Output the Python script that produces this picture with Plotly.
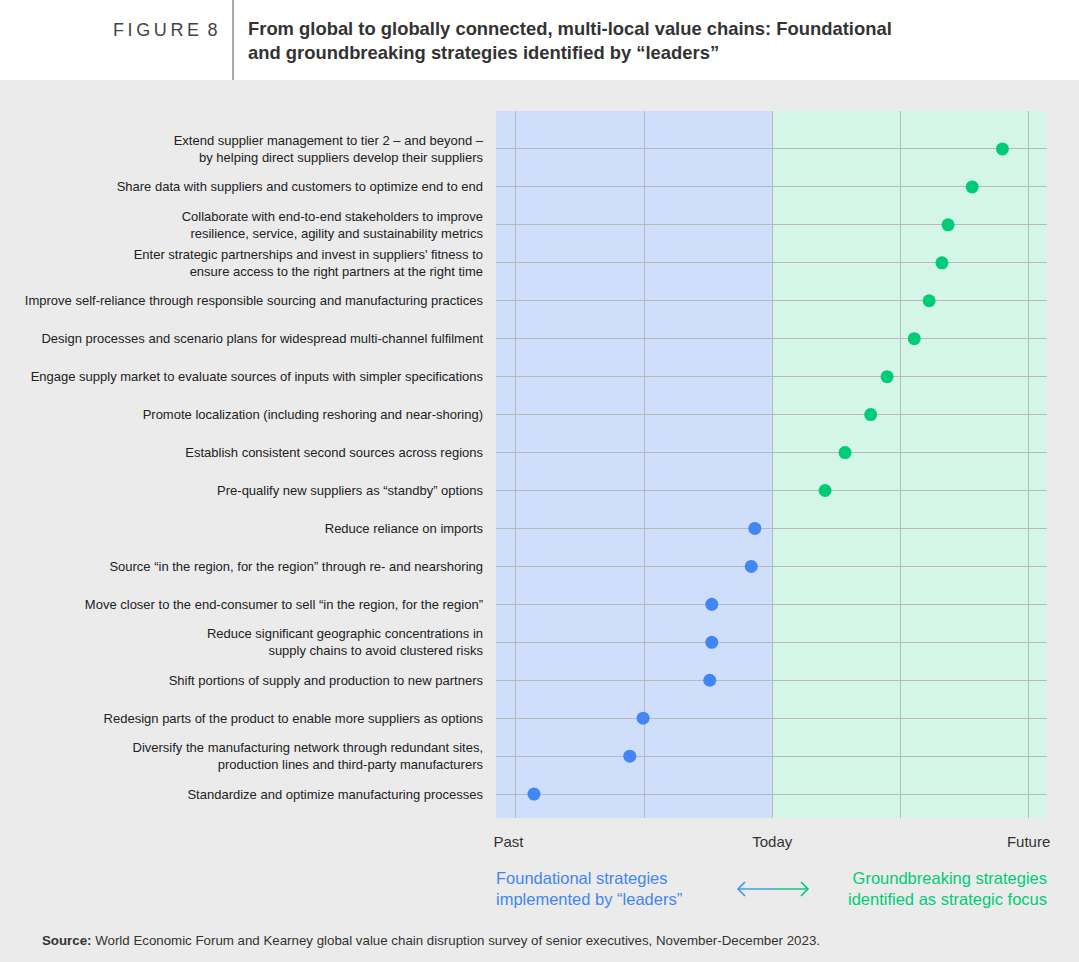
import plotly.graph_objects as go

labels = [
    "Extend supplier management to tier 2 – and beyond –<br>by helping direct suppliers develop their suppliers",
    "Share data with suppliers and customers to optimize end to end",
    "Collaborate with end-to-end stakeholders to improve<br>resilience, service, agility and sustainability metrics",
    "Enter strategic partnerships and invest in suppliers' fitness to<br>ensure access to the right partners at the right time",
    "Improve self-reliance through responsible sourcing and manufacturing practices",
    "Design processes and scenario plans for widespread multi-channel fulfilment",
    "Engage supply market to evaluate sources of inputs with simpler specifications",
    "Promote localization (including reshoring and near-shoring)",
    "Establish consistent second sources across regions",
    "Pre-qualify new suppliers as “standby” options",
    "Reduce reliance on imports",
    "Source “in the region, for the region” through re- and nearshoring",
    "Move closer to the end-consumer to sell “in the region, for the region”",
    "Reduce significant geographic concentrations in<br>supply chains to avoid clustered risks",
    "Shift portions of supply and production to new partners",
    "Redesign parts of the product to enable more suppliers as options",
    "Diversify the manufacturing network through redundant sites,<br>production lines and third-party manufacturers",
    "Standardize and optimize manufacturing processes",
]
# 0 = Past, 50 = Today, 100 = Future
values = [94.9, 89.0, 84.3, 83.1, 80.6, 77.7, 72.4, 69.2, 64.2, 60.3,
          46.6, 45.9, 38.2, 38.2, 37.8, 24.8, 22.2, 3.5]
groups = ["Groundbreaking"] * 10 + ["Foundational"] * 8
x_tickvals = [0, 25, 50, 75, 100]
x_ticktext = ["Past\u2002\u2002", "", "Today", "", "Future"]

BLUE = "#4285f4"
GREEN = "#00cc77"
BLUE_BG = "#cfdffb"
GREEN_BG = "#d3f6e8"
GRID = "#b9b9b9"

W, H = 1079, 962
L, R, T, B = 496, 32, 111, 144
PW, PH = W - L - R, H - T - B


def px(x):
    return (x - L) / PW


def py(y):
    return (H - B - y) / PH


rows = list(range(len(labels)))
colors = [GREEN if g == "Groundbreaking" else BLUE for g in groups]

fig = go.Figure()
fig.add_trace(go.Scatter(
    x=values, y=rows, mode="markers",
    marker=dict(size=13, color=colors, line=dict(width=0)),
    hoverinfo="skip", showlegend=False,
))

xmin, xmax = -3.9, 103.6
ay_ = py(889)
shapes = [
    dict(type="rect", xref="paper", yref="paper", x0=px(-5), x1=px(W + 5),
         y0=py(80), y1=py(-5), fillcolor="white", line=dict(width=0), layer="below"),
    dict(type="line", xref="paper", yref="paper", x0=px(233), x1=px(233),
         y0=py(80), y1=py(0), line=dict(color="#555555", width=1)),
    dict(type="rect", xref="x", yref="paper", x0=xmin, x1=50, y0=0, y1=1,
         fillcolor=BLUE_BG, line=dict(width=0), layer="below"),
    dict(type="rect", xref="x", yref="paper", x0=50, x1=xmax, y0=0, y1=1,
         fillcolor=GREEN_BG, line=dict(width=0), layer="below"),
    # double arrow (blue half + green half)
    dict(type="line", xref="paper", yref="paper", x0=px(738), x1=px(773), y0=ay_, y1=ay_,
         line=dict(color="#3fa0e0", width=1.6)),
    dict(type="line", xref="paper", yref="paper", x0=px(773), x1=px(808), y0=ay_, y1=ay_,
         line=dict(color="#10c590", width=1.6)),
    dict(type="path", xref="paper", yref="paper",
         path=f"M {px(745)},{py(882)} L {px(738)},{ay_} L {px(745)},{py(896)}",
         line=dict(color="#4290ee", width=1.6)),
    dict(type="path", xref="paper", yref="paper",
         path=f"M {px(801)},{py(882)} L {px(808)},{ay_} L {px(801)},{py(896)}",
         line=dict(color="#00c97f", width=1.6)),
]

annotations = [
    dict(text="F\u2009I\u2009G\u2009U\u2009R\u2009E\u2009 8", xref="paper", yref="paper",
         x=px(220), y=py(30), xanchor="right", yanchor="middle", showarrow=False,
         font=dict(family="Liberation Sans, Arial", size=18, color="#444444")),
    dict(text="<b>From global to globally connected, multi-local value chains: Foundational<br>and groundbreaking strategies identified by “leaders”</b>",
         xref="paper", yref="paper", x=px(246), y=py(41), xanchor="left", yanchor="middle",
         align="left", showarrow=False,
         font=dict(family="Liberation Sans, Arial", size=18.4, color="#333333")),
    dict(text="Foundational strategies<br>implemented by “leaders”", xref="paper", yref="paper",
         x=px(494), y=py(888), xanchor="left", yanchor="middle", align="left", showarrow=False,
         font=dict(family="Liberation Sans, Arial", size=16.5, color=BLUE)),
    dict(text="Groundbreaking strategies<br>identified as strategic focus", xref="paper", yref="paper",
         x=px(1049), y=py(888), xanchor="right", yanchor="middle", align="right", showarrow=False,
         font=dict(family="Liberation Sans, Arial", size=16.5, color=GREEN)),
    dict(text="<b>Source:</b> World Economic Forum and Kearney global value chain disruption survey of senior executives, November-December 2023.",
         xref="paper", yref="paper", x=px(40), y=py(941), xanchor="left", yanchor="middle",
         showarrow=False, font=dict(family="Liberation Sans, Arial", size=13.3, color="#333333")),
]

fig.update_layout(
    width=W, height=H,
    margin=dict(l=L, r=R, t=T, b=B, pad=0),
    paper_bgcolor="#ebebeb", plot_bgcolor="rgba(0,0,0,0)",
    shapes=shapes, annotations=annotations,
    xaxis=dict(range=[xmin, xmax], tickvals=x_tickvals, ticktext=x_ticktext,
               showgrid=True, gridcolor=GRID, gridwidth=1, zeroline=False,
               showline=False, ticks="", ticklabelstandoff=13,
               tickfont=dict(family="Liberation Sans, Arial", size=15, color="#333333"),
               fixedrange=True),
    yaxis=dict(range=[len(labels) - 0.37, -1], tickvals=[-1] + rows, ticktext=[""] + labels,
               showgrid=True, gridcolor=GRID, gridwidth=1, zeroline=False,
               showline=False, ticks="", ticklabelstandoff=12,
               tickfont=dict(family="Liberation Sans, Arial", size=13, color="#222222"),
               fixedrange=True),
    font=dict(family="Liberation Sans, Arial"),
)

fig.write_html("out.html", config={"displayModeBar": False},
               post_script="document.body.style.margin='0';document.body.style.padding='0';")
